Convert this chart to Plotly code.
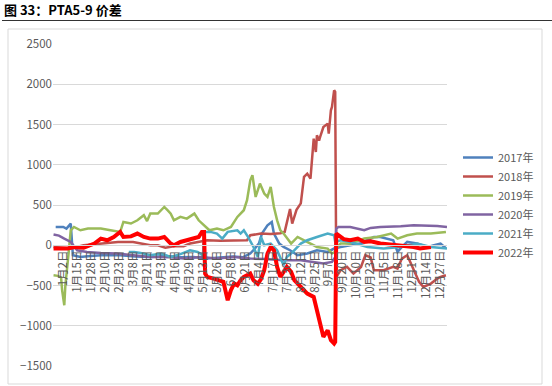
import plotly.graph_objects as go

# ---- categories / tick labels ----
tick_labels = ["1月2日", "1月15日", "1月28日", "2月10日", "2月23日", "3月8日", "3月21日",
               "4月3日", "4月16日", "4月29日", "5月13日", "5月26日", "6月8日", "6月21日",
               "7月4日", "7月17日", "7月30日", "8月12日", "8月25日", "9月7日", "9月20日",
               "10月10日", "10月23日", "11月5日", "11月18日", "12月1日", "12月14日", "12月27日"]
tick_pos = [9 + 13 * k for k in range(len(tick_labels))]

# ---- series (category index, value) ----
idx17 = [2, 9, 12, 16, 18, 25, 34, 48, 62, 76, 90, 104, 118, 130, 143, 155, 167, 176, 183, 186,
         191, 194, 199, 203, 205, 210, 214, 220, 227, 236, 245, 255, 261, 267, 276, 286, 298, 304,
         316, 320, 324, 329, 338, 348, 354, 360, 365]
val17 = [227, 227, 207, 269, -124, -145, -133, -120, -125, -140, -145, -135, -150, -145, -165, -150,
         -140, -150, -103, -60, 20, 150, 248, 290, 145, 21, -21, -62, -124, -103, -62, -83, -41, -21,
         0, 25, 103, 103, 62, -83, -21, 41, 21, -21, 0, 20, -37]

idx18 = [0, 7, 16, 28, 44, 60, 74, 84, 90, 97, 104, 112, 121, 127, 137, 143, 155, 169, 180, 183,
         193, 202, 211, 215, 218, 220, 222, 226, 230, 233, 236, 239, 242, 244, 245, 247, 248, 251,
         255, 256, 258, 259, 261, 262, 263, 267, 273, 279, 286, 290, 295, 298, 307, 316, 320, 324,
         329, 335, 340, 344, 351, 357, 360, 365]
val18 = [-21, -30, -41, 0, 21, 41, 41, 21, 0, 0, -30, -12, -12, 21, 41, 62, 55, 62, 62, 124,
         145, 140, 150, 166, 330, 450, 270, 440, 520, 850, 890, 828, 1325, 1159, 1366, 1300, 1345,
         1469, 1511, 1387, 1677, 1718, 1925, 1904, -394, -310, -269, -352, -269, -124, -150, -310,
         -310, -269, -290, -166, -124, -310, -455, -518, -476, -414, -394, -373]

idx19 = [0, 4, 7, 8, 10, 11, 14, 16, 19, 25, 32, 44, 53, 62, 65, 72, 78, 84, 87, 90,
         97, 103, 106, 109, 112, 118, 124, 131, 135, 140, 145, 152, 158, 165, 171, 177, 180, 183,
         185, 188, 192, 196, 199, 202, 205, 208, 211, 214, 221, 227, 233, 239, 245, 255, 259, 262,
         264, 267, 276, 289, 301, 314, 320, 329, 338, 351, 365]
val19 = [-373, -380, -400, -560, -745, -500, -100, 186, 227, 186, 207, 207, 186, 166, 290, 270,
         310, 373, 300, 393, 393, 476, 435, 393, 310, 352, 331, 393, 310, 248, 186, 207, 186, 227,
         352, 435, 559, 807, 869, 600, 766, 642, 600, 725, 476, 310, 186, 145, 21, 103, 62, 21,
         -21, -41, -103, -83, -21, 21, 21, 83, 103, 145, 83, 124, 145, 145, 166]

idx20 = [0, 5, 10, 16, 22, 31, 44, 59, 72, 90, 109, 121, 137, 152, 168, 183, 197, 214, 230, 245,
         251, 259, 262, 263, 265, 276, 283, 289, 295, 304, 323, 335, 357, 366]
val20 = [133, 120, 83, 41, -62, -83, -95, -103, -120, -145, -150, -166, -145, -166, -145, -166,
         -170, -186, -186, -215, -228, -207, -150, 207, 227, 227, 200, 186, 215, 227, 235, 248,
         240, 227]

idx21 = [70, 75, 81, 90, 100, 109, 118, 127, 134, 139, 140, 146, 152, 157, 162, 171, 174, 177,
         181, 186, 190, 193, 196, 202, 208, 214, 217, 221, 230, 236, 245, 255, 261, 262, 267, 276,
         292, 307, 323, 338, 351, 366]
val21 = [-83, -83, -95, -124, -103, -145, -110, -62, -83, -124, 166, 166, 145, 83, 166, 186, 145,
         186, 100, -21, -145, 103, 0, 21, -62, -248, -145, -103, 21, 62, 103, 145, 124, 41, 62,
         41, -21, -41, -21, 21, -21, -41]

idx22 = [0, 7, 13, 19, 28, 38, 44, 50, 56, 62, 65, 72, 78, 84, 90, 97, 103, 109, 112, 118,
         124, 131, 135, 138, 140, 141, 143, 149, 155, 158, 162, 165, 168, 171, 174, 177, 180, 183,
         186, 190, 193, 196, 199, 202, 205, 208, 211, 214, 217, 221, 224, 230, 236, 242, 245, 248,
         251, 255, 258, 261, 262, 263, 267, 270, 276, 283, 289, 295, 304, 320, 335, 341, 351]
val22 = [-41, -35, -41, -21, -30, 21, 83, 62, 103, 166, 103, 110, 145, 103, 83, 83, 103, 21, 0, 41,
         62, 83, 103, 166, 166, -352, -394, -414, -435, -455, -683, -559, -476, -497, -435, -394,
         -373, -352, -435, -480, -420, -310, -103, -21, -62, -269, -394, -331, -269, -331, -435,
         -518, -600, -642, -807, -1014, -1138, -1056, -1180, -1221, -1200, 145, 103, 75, 62, 83,
         41, 50, 21, 0, -21, -41, -21]

series_names = ["2017年", "2018年", "2019年", "2020年", "2021年", "2022年"]
series_x = [idx17, idx18, idx19, idx20, idx21, idx22]
series_y = [val17, val18, val19, val20, val21, val22]
colors = ["#4F81BD", "#C0504D", "#9BBB59", "#8064A2", "#4BACC6", "#FF0000"]
widths = [2.5, 2.5, 2.5, 2.5, 2.5, 4]

FONT = "Noto Sans CJK SC"
GRAY = "#595959"

fig = go.Figure()
for name, xs, ys, c, w in zip(series_names, series_x, series_y, colors, widths):
    fig.add_trace(go.Scatter(x=xs, y=ys, mode="lines", name=name,
                             line=dict(color=c, width=w)))

# pixel -> paper helpers for decorations
L, R, T, B = 53, 447, 44, 366
def px(x):
    return (x - L) / (R - L)
def py(y):
    return (B - y) / (B - T)

fig.update_layout(
    width=552, height=386,
    margin=dict(l=L, r=552 - R, t=T, b=386 - B, autoexpand=False),
    paper_bgcolor="white", plot_bgcolor="white",
    font=dict(family=FONT, color=GRAY, size=11),
    showlegend=True,
    legend=dict(x=px(458), y=py(143), xanchor="left", yanchor="top",
                font=dict(size=11, color=GRAY, family=FONT),
                bgcolor="rgba(0,0,0,0)", itemwidth=30, tracegroupgap=0),
    xaxis=dict(range=[-0.5, 366], tickmode="array", tickvals=tick_pos, ticktext=tick_labels,
               tickangle=-90, anchor="free", position=py(245), showgrid=False, automargin=False,
               showline=True, linecolor="#D9D9D9", linewidth=1, ticks="", zeroline=False,
               tickfont=dict(size=11.5, color=GRAY, family=FONT)),
    yaxis=dict(range=[-1500, 2500], dtick=500, tick0=0, showgrid=True, gridcolor="#D9D9D9",
               gridwidth=1, zeroline=False, showline=False, ticks="", automargin=False,
               tickfont=dict(size=11.5, color=GRAY, family=FONT)),
    shapes=[
        dict(type="line", xref="paper", yref="paper", x0=px(2), x1=px(552), y0=py(20.5), y1=py(20.5),
             line=dict(color="#333333", width=1.2)),
        dict(type="rect", xref="paper", yref="paper", x0=px(8), x1=px(542), y0=py(384), y1=py(29),
             line=dict(color="#D9D9D9", width=1)),
    ],
    annotations=[
        dict(text="<b>图 33：PTA5-9 价差</b>", xref="paper", yref="paper", x=px(2), y=py(10),
             xanchor="left", yanchor="middle", showarrow=False,
             font=dict(size=13, color="#000000", family=FONT)),
    ],
)

fig.write_html("out.html", config={"displayModeBar": False},
               post_script="document.body.style.margin='0';")
